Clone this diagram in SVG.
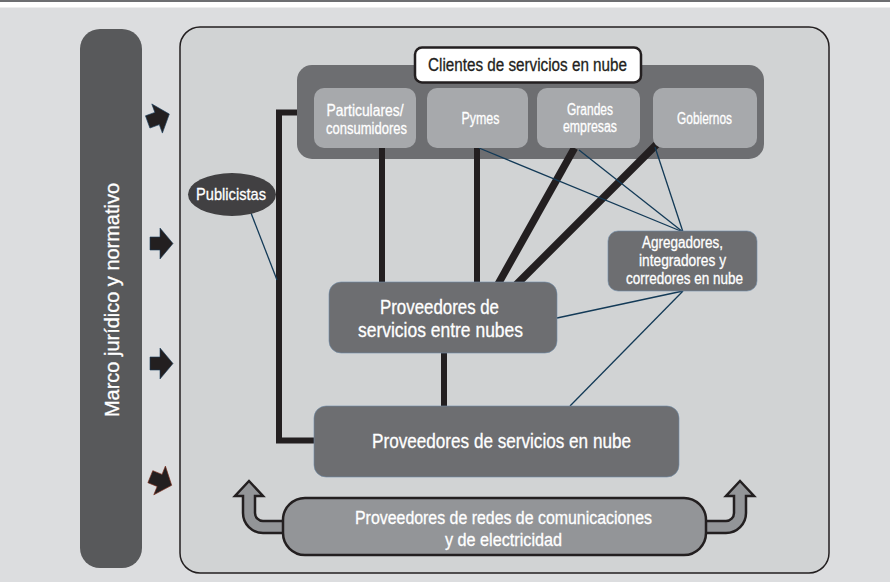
<svg xmlns="http://www.w3.org/2000/svg" xmlns:xlink="http://www.w3.org/1999/xlink" width="890" height="582" viewBox="0 0 890 582">
<defs>
<style>
.t{font-family:"Liberation Sans Narrow","Liberation Sans",Arial,sans-serif;fill:#ffffff;stroke:#ffffff;stroke-width:0.3;text-anchor:middle}
.dk{fill:#6d6e71}
.sub{fill:#a7a9ac}
.thick{stroke:#231f20;stroke-width:6;fill:none}
.slant{stroke:#231f20;stroke-width:7.5;fill:none}
.thin{stroke:#133a57;stroke-width:1.3;fill:none}
.bar{fill:#231f20;stroke:#1b3e5c;stroke-width:0.6}
.curve{fill:#939598;stroke:#231f20;stroke-width:2.5;stroke-linejoin:miter}
</style>
<path id="blk" d="M -11.5 -6.5 H -1.5 V -15.5 L 11.5 0 L -1.5 15.5 V 6.5 H -11.5 Z"/>
</defs>
<rect x="0" y="0" width="890" height="582" fill="#dcdddf"/>
<rect x="0" y="0" width="890" height="7.5" fill="#ffffff"/>
<rect x="0" y="0" width="890" height="2" fill="#6d6e71"/>

<g id="panel">
<rect x="180" y="27" width="649" height="546" rx="20" fill="#d1d3d4" stroke="#231f20" stroke-width="1.5"/>
</g>

<g id="marco">
<rect x="80" y="29" width="62" height="539" rx="20" fill="#58595b"/>
<text class="t" font-size="20" transform="translate(119,300) rotate(-90)" textLength="234" lengthAdjust="spacingAndGlyphs">Marco jurídico y normativo</text>
</g>

<g id="arrows">
<use xlink:href="#blk" class="bar" transform="translate(158.5,118) rotate(-20)"/>
<use xlink:href="#blk" class="bar" transform="translate(161.5,243.5)"/>
<use xlink:href="#blk" class="bar" transform="translate(161.5,363.5)"/>
<use xlink:href="#blk" class="bar" style="stroke:#7a2a1a" transform="translate(161,481) rotate(22)"/>
</g>

<g id="clientes">
<rect x="297" y="65" width="467" height="94" rx="15" class="dk"/>
<rect x="415" y="47.5" width="226" height="35" rx="7" fill="#ffffff" stroke="#231f20" stroke-width="2.5"/>
<text class="t" style="fill:#231f20;stroke:#231f20" x="527.5" y="71" font-size="18" textLength="199" lengthAdjust="spacingAndGlyphs">Clientes de servicios en nube</text>
</g>

<g id="connectors">
<path class="thick" d="M 297 112.5 H 279 V 440.5 H 318"/>
<line class="thick" x1="382" y1="145" x2="382" y2="286"/>
<line class="thick" x1="477" y1="145" x2="477" y2="286"/>
<line class="slant" x1="574.5" y1="148" x2="497" y2="286"/>
<line class="slant" x1="657" y1="144" x2="514" y2="287"/>
<line class="thick" x1="444" y1="350" x2="444" y2="410"/>
<line class="thin" x1="479" y1="148" x2="683" y2="232"/>
<line class="thin" x1="579" y1="150" x2="683" y2="232"/>
<line class="thin" x1="655" y1="147" x2="683" y2="232"/>
<line class="thin" x1="557" y1="318" x2="683" y2="291"/>
<line class="thin" x1="570" y1="406" x2="683" y2="291"/>
<line class="thin" x1="251" y1="213" x2="277" y2="280"/>
</g>

<g id="particulares">
<rect x="314" y="88" width="102" height="60" rx="10" class="sub"/>
<text class="t" x="365" y="115.5" font-size="16.5" textLength="77" lengthAdjust="spacingAndGlyphs">Particulares/</text>
<text class="t" x="366.5" y="133.5" font-size="16.5" textLength="81" lengthAdjust="spacingAndGlyphs">consumidores</text>
</g>
<g id="pymes">
<rect x="427" y="88" width="101" height="60" rx="10" class="sub"/>
<text class="t" x="480.5" y="124" font-size="16.5" textLength="38" lengthAdjust="spacingAndGlyphs">Pymes</text>
</g>
<g id="grandes">
<rect x="537" y="88" width="103" height="60" rx="10" class="sub"/>
<text class="t" x="590" y="115" font-size="16" textLength="46" lengthAdjust="spacingAndGlyphs">Grandes</text>
<text class="t" x="590" y="132" font-size="16" textLength="54" lengthAdjust="spacingAndGlyphs">empresas</text>
</g>
<g id="gobiernos">
<rect x="653" y="88" width="104" height="60" rx="10" class="sub"/>
<text class="t" x="704.5" y="123.5" font-size="16" textLength="55" lengthAdjust="spacingAndGlyphs">Gobiernos</text>
</g>

<g id="publicistas">
<ellipse cx="232" cy="194.5" rx="44" ry="21.5" fill="#414042"/>
<text class="t" x="231" y="200" font-size="17" textLength="70" lengthAdjust="spacingAndGlyphs">Publicistas</text>
</g>

<g id="entre-nubes">
<rect x="329" y="282" width="228" height="71" rx="12" class="dk" stroke="#6f8ca8" stroke-width="0.6"/>
<text class="t" x="439.5" y="313.5" font-size="20" textLength="119" lengthAdjust="spacingAndGlyphs">Proveedores de</text>
<text class="t" x="440.5" y="336.5" font-size="20" textLength="165" lengthAdjust="spacingAndGlyphs">servicios entre nubes</text>
</g>

<g id="agregadores">
<rect x="608" y="231" width="149" height="60" rx="10" class="dk" stroke="#6f8ca8" stroke-width="0.6"/>
<text class="t" x="682.5" y="247.5" font-size="16" textLength="81" lengthAdjust="spacingAndGlyphs">Agregadores,</text>
<text class="t" x="682.5" y="266" font-size="16" textLength="87" lengthAdjust="spacingAndGlyphs">integradores y</text>
<text class="t" x="684.5" y="284" font-size="16" textLength="117" lengthAdjust="spacingAndGlyphs">corredores en nube</text>
</g>

<g id="en-nube">
<rect x="314" y="406" width="365" height="71" rx="12" class="dk" stroke="#6f8ca8" stroke-width="0.6"/>
<text class="t" x="501.5" y="447.5" font-size="20.5" textLength="259" lengthAdjust="spacingAndGlyphs">Proveedores de servicios en nube</text>
</g>

<g id="redes">
<path class="curve" d="M 285 521 H 263 A 8 8 0 0 1 255 513 V 496 H 263 L 249 481 L 235 496 H 243 V 513 A 20 20 0 0 0 263 533 H 285 Z"/>
<path class="curve" d="M 704 521 H 726 A 8 8 0 0 0 734 513 V 496 H 726 L 740 481 L 754 496 H 746 V 513 A 20 20 0 0 1 726 533 H 704 Z"/>
<rect x="283" y="498" width="423" height="57" rx="22" fill="#939598" stroke="#231f20" stroke-width="2.5"/>
<text class="t" x="503.5" y="523.5" font-size="18" textLength="297" lengthAdjust="spacingAndGlyphs">Proveedores de redes de comunicaciones</text>
<text class="t" x="503.5" y="545.5" font-size="18" textLength="117" lengthAdjust="spacingAndGlyphs">y de electricidad</text>
</g>
</svg>
